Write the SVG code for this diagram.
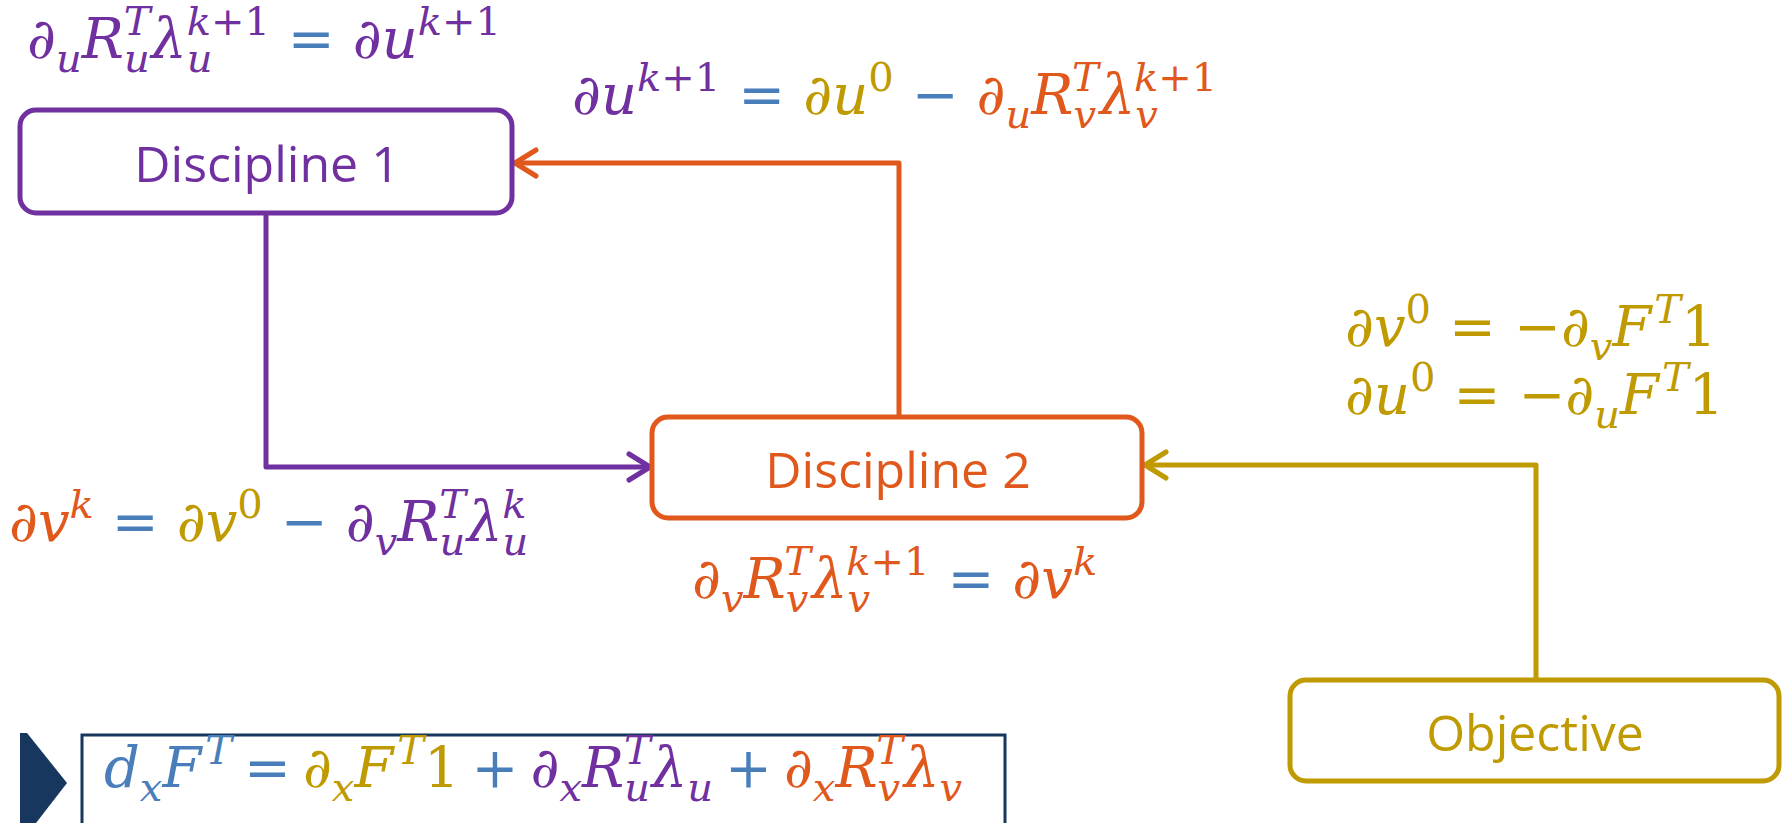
<svg xmlns="http://www.w3.org/2000/svg" width="1785" height="823" viewBox="0 0 1785 823">
<style>
.box{fill:#fff;stroke-width:5}
.lbl{font-family:"Open Sans","Noto Sans",sans-serif;font-size:50px;text-anchor:middle}
.m{font-family:"DejaVu Serif",serif;font-style:italic;font-size:56px}
.s{font-size:40px}
.up{font-style:normal}
.P{fill:#7030A0}.O{fill:#E0581C}.G{fill:#BF9A00}.B{fill:#4A7EBB}
.c{fill:none;stroke-width:5;stroke-linejoin:round}
</style>
<defs>
<marker id="aP" markerUnits="userSpaceOnUse" viewBox="-26 -16 30 32" refX="0" refY="0" markerWidth="30" markerHeight="32" orient="auto" overflow="visible"><path d="M-21,-13 L0,0 L-21,13" fill="none" stroke="#7030A0" stroke-width="5" stroke-linecap="round" stroke-linejoin="round"/></marker>
<marker id="aO" markerUnits="userSpaceOnUse" viewBox="-26 -16 30 32" refX="0" refY="0" markerWidth="30" markerHeight="32" orient="auto" overflow="visible"><path d="M-21,-13 L0,0 L-21,13" fill="none" stroke="#E0581C" stroke-width="5" stroke-linecap="round" stroke-linejoin="round"/></marker>
<marker id="aG" markerUnits="userSpaceOnUse" viewBox="-26 -16 30 32" refX="0" refY="0" markerWidth="30" markerHeight="32" orient="auto" overflow="visible"><path d="M-21,-13 L0,0 L-21,13" fill="none" stroke="#BF9A00" stroke-width="5" stroke-linecap="round" stroke-linejoin="round"/></marker>
</defs>
<rect width="1785" height="823" fill="#fff"/>
<g id="connectors">
<path class="c" stroke="#7030A0" d="M266,213 V467 H650" marker-end="url(#aP)"/>
<path class="c" stroke="#E0581C" d="M899,417 V163 H515" marker-end="url(#aO)"/>
<path class="c" stroke="#BF9A00" d="M1536,680 V465 H1145" marker-end="url(#aG)"/>
</g>
<g id="discipline1">
<rect class="box" x="20" y="110" width="492" height="103" rx="16" stroke="#7030A0"/>
<text class="lbl P" x="267" y="182">Discipline 1</text>
</g>
<g id="discipline2">
<rect class="box" x="652" y="417" width="490" height="101" rx="16" stroke="#E0581C"/>
<text class="lbl O" x="898" y="488">Discipline 2</text>
</g>
<g id="objective">
<rect class="box" x="1290" y="680" width="489" height="101" rx="16" stroke="#BF9A00"/>
<text class="lbl G" x="1535" y="751">Objective</text>
</g>
<g id="labels">
<text class="m P" x="27" y="58">∂<tspan class="s" dy="14">u</tspan><tspan dy="-14">R</tspan><tspan class="s" dy="14">u</tspan><tspan class="s" dx="-26" dy="-37">T</tspan><tspan dy="23" dx="1">λ</tspan><tspan class="s" dy="14">u</tspan><tspan class="s" dx="-26" dy="-37">k<tspan class="up">+1</tspan></tspan><tspan class="B" dx="18" dy="23">=</tspan><tspan dx="18">∂u</tspan><tspan class="s" dy="-23">k<tspan class="up">+1</tspan></tspan></text>

<text class="m P" x="572" y="114">∂u<tspan class="s" dy="-23">k<tspan class="up">+1</tspan></tspan><tspan class="B" dx="18" dy="23">=</tspan><tspan class="G" dx="18">∂u</tspan><tspan class="s up G" dy="-23">0</tspan><tspan class="B up" dx="18" dy="23">−</tspan><tspan class="O" dx="18">∂</tspan><tspan class="s O" dy="14">u</tspan><tspan class="O" dy="-14">R</tspan><tspan class="s O" dy="14">v</tspan><tspan class="s O" dx="-24" dy="-37">T</tspan><tspan class="O" dy="23" dx="1">λ</tspan><tspan class="s O" dy="14">v</tspan><tspan class="s O" dx="-24" dy="-37">k<tspan class="up">+1</tspan></tspan></text>

<text class="m O" x="9" y="541">∂v<tspan class="s" dy="-23">k</tspan><tspan class="B" dx="18" dy="23">=</tspan><tspan class="G" dx="18">∂v</tspan><tspan class="s up G" dy="-23">0</tspan><tspan class="B up" dx="18" dy="23">−</tspan><tspan class="P" dx="18">∂</tspan><tspan class="s P" dy="14">v</tspan><tspan class="P" dy="-14">R</tspan><tspan class="s P" dy="14">u</tspan><tspan class="s P" dx="-26" dy="-37">T</tspan><tspan class="P" dy="23" dx="1">λ</tspan><tspan class="s P" dy="14">u</tspan><tspan class="s P" dx="-26" dy="-37">k</tspan></text>

<text class="m O" x="692" y="598">∂<tspan class="s" dy="14">v</tspan><tspan dy="-14">R</tspan><tspan class="s" dy="14">v</tspan><tspan class="s" dx="-24" dy="-37">T</tspan><tspan dy="23" dx="1">λ</tspan><tspan class="s" dy="14">v</tspan><tspan class="s" dx="-24" dy="-37">k<tspan class="up">+1</tspan></tspan><tspan class="B" dx="18" dy="23">=</tspan><tspan dx="18">∂v</tspan><tspan class="s" dy="-23">k</tspan></text>

<text class="m G" x="1345" y="346">∂v<tspan class="s up" dy="-23">0</tspan><tspan class="up" dx="18" dy="23">=</tspan><tspan class="up" dx="18">−</tspan>∂<tspan class="s" dy="14">v</tspan><tspan dy="-14">F</tspan><tspan class="s" dx="3" dy="-23">T</tspan><tspan class="up" dy="23">1</tspan></text>
<text class="m G" x="1345" y="414">∂u<tspan class="s up" dy="-23">0</tspan><tspan class="up" dx="18" dy="23">=</tspan><tspan class="up" dx="18">−</tspan>∂<tspan class="s" dy="14">u</tspan><tspan dy="-14">F</tspan><tspan class="s" dx="3" dy="-23">T</tspan><tspan class="up" dy="23">1</tspan></text>
</g>
<g id="result">
<polygon points="20,733 27,733 67,783 36,823 20,823" fill="#17375E"/>
<rect x="82" y="735" width="923" height="100" fill="#fff" stroke="#17375E" stroke-width="3"/>
<text class="m B" x="104" y="787">d<tspan class="s" dy="14">x</tspan><tspan dy="-14">F</tspan><tspan class="s" dx="4" dy="-23">T</tspan><tspan class="up" dx="12" dy="23">=</tspan><tspan class="G" dx="12">∂</tspan><tspan class="s G" dy="14">x</tspan><tspan class="G" dy="-14">F</tspan><tspan class="s G" dx="4" dy="-23">T</tspan><tspan class="G up" dy="23">1</tspan><tspan class="up" dx="12">+</tspan><tspan class="P" dx="12">∂</tspan><tspan class="s P" dy="14">x</tspan><tspan class="P" dy="-14">R</tspan><tspan class="s P" dy="14">u</tspan><tspan class="s P" dx="-26" dy="-37">T</tspan><tspan class="P" dy="23" dx="1">λ</tspan><tspan class="s P" dy="14">u</tspan><tspan class="up" dx="12" dy="-14">+</tspan><tspan class="O" dx="12">∂</tspan><tspan class="s O" dy="14">x</tspan><tspan class="O" dy="-14">R</tspan><tspan class="s O" dy="14">v</tspan><tspan class="s O" dx="-24" dy="-37">T</tspan><tspan class="O" dy="23" dx="1">λ</tspan><tspan class="s O" dy="14">v</tspan></text>
</g>
</svg>
